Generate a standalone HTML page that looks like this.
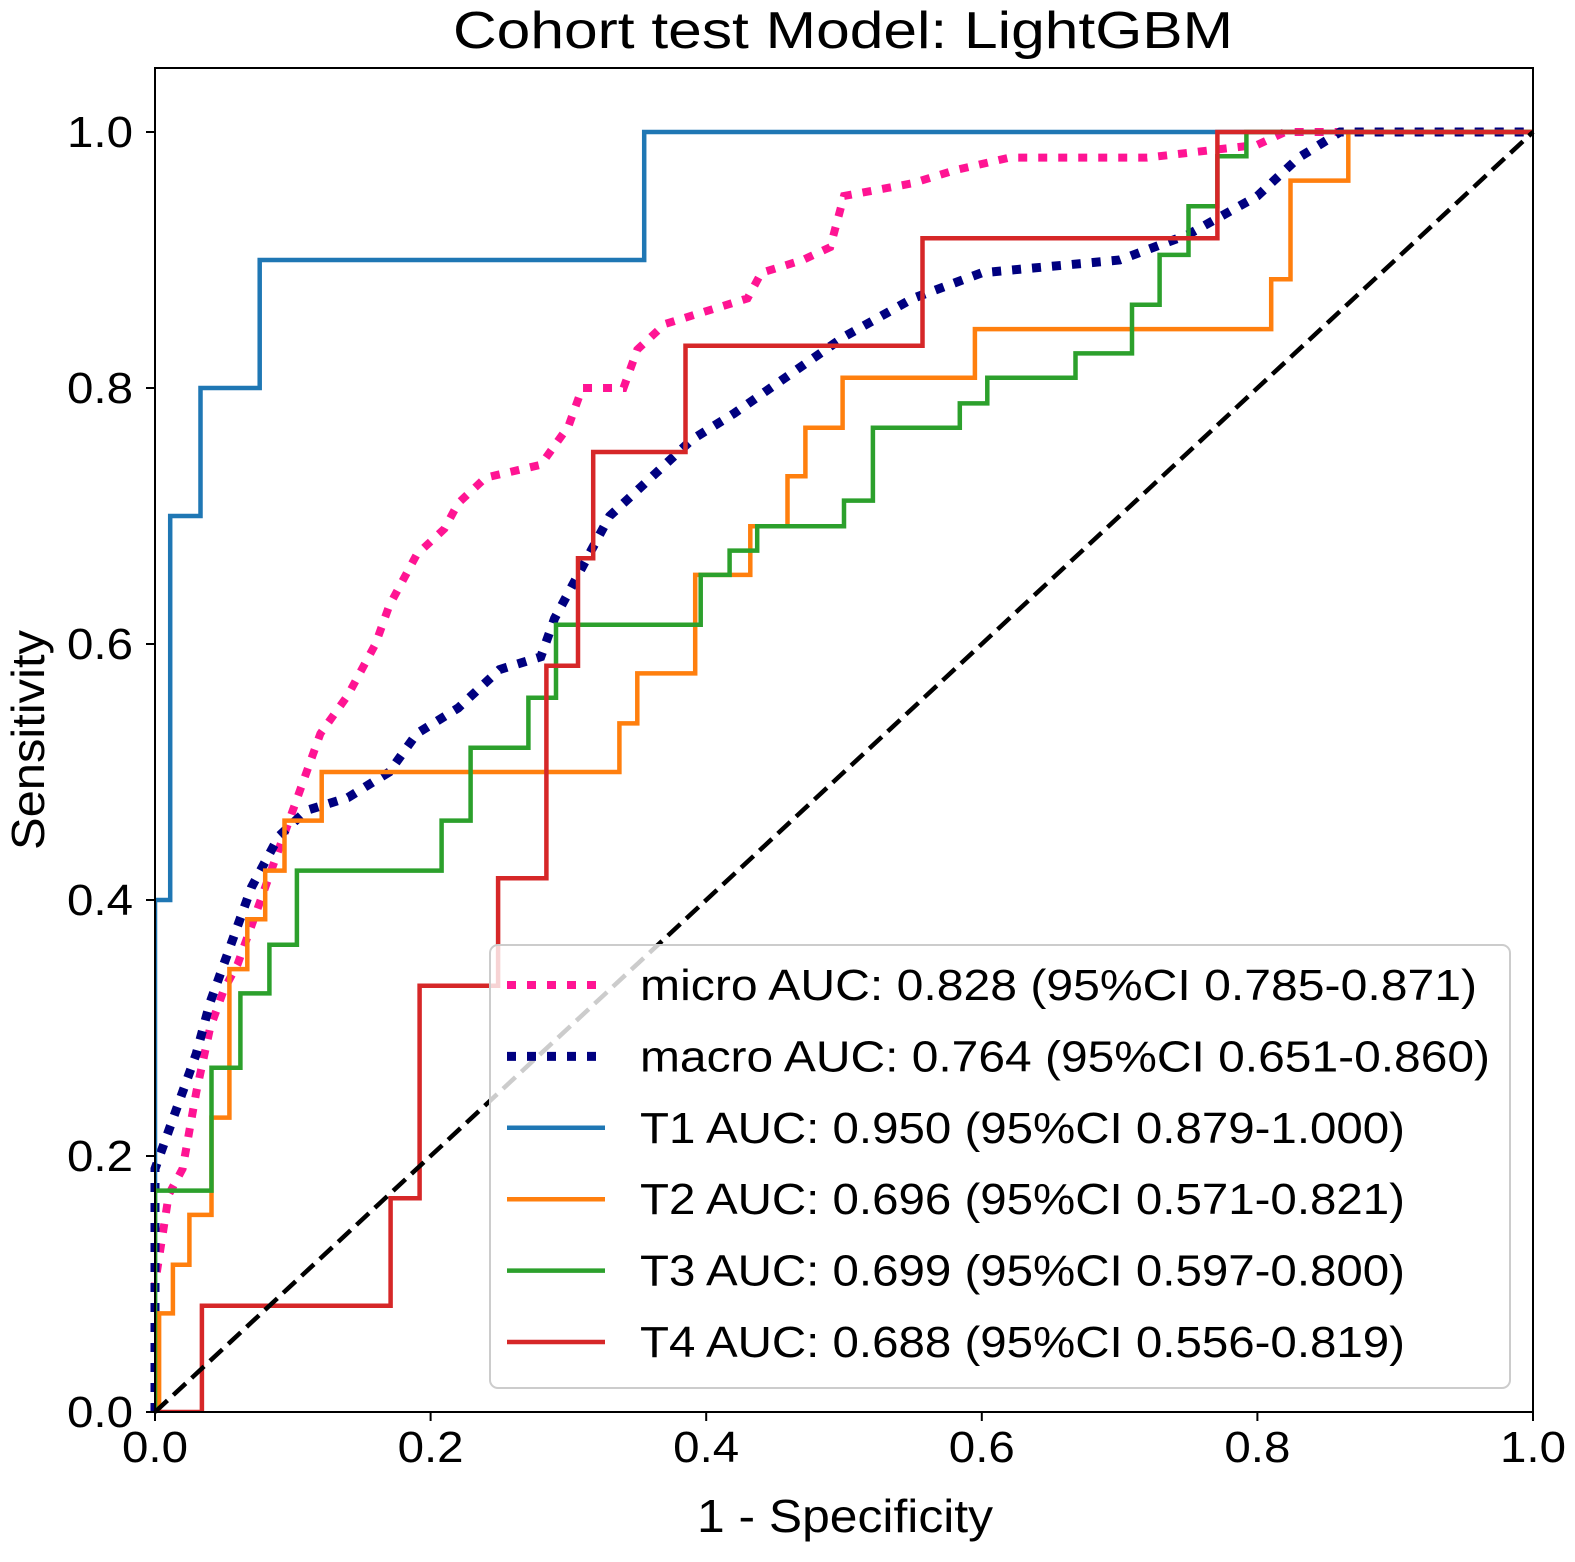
<!DOCTYPE html>
<html><head><meta charset="utf-8"><style>
html,body{margin:0;padding:0;background:#fff;}
svg{display:block;font-family:"Liberation Sans","DejaVu Sans",sans-serif;}
</style></head><body>
<svg id="chart" width="1575" height="1562" viewBox="0 0 1575 1562" xmlns="http://www.w3.org/2000/svg">
<text x="453" y="48" font-size="52" textLength="780" lengthAdjust="spacingAndGlyphs">Cohort test Model: LightGBM</text>
<text x="697" y="1532" font-size="46" textLength="296" lengthAdjust="spacingAndGlyphs">1 - Specificity</text>
<text transform="translate(44,850) rotate(-90)" font-size="46" textLength="220" lengthAdjust="spacingAndGlyphs">Sensitivity</text>
<g id="plot"></g>
</svg>
<script>
const xTicks=[0,0.2,0.4,0.6,0.8,1.0];
const yTicks=[0,0.2,0.4,0.6,0.8,1.0];
const microX=[0,0,0.01,0.02,0.03,0.04,0.05,0.06,0.07,0.09,0.1,0.11,0.12,0.14,0.16,0.17,0.19,0.21,0.22,0.24,0.28,0.3,0.31,0.34,0.35,0.37,0.4,0.43,0.44,0.47,0.49,0.5,0.55,0.58,0.62,0.72,0.8,0.82,1];
const microY=[0,0.1,0.17,0.19,0.25,0.3,0.33,0.35,0.38,0.44,0.47,0.5,0.53,0.56,0.6,0.63,0.67,0.69,0.71,0.73,0.74,0.77,0.8,0.8,0.83,0.85,0.86,0.87,0.89,0.9,0.91,0.95,0.96,0.97,0.98,0.98,0.99,1,1];
const macroX=[0,0,0.01,0.02,0.03,0.04,0.05,0.07,0.09,0.11,0.14,0.17,0.19,0.22,0.25,0.28,0.29,0.31,0.33,0.36,0.39,0.42,0.46,0.5,0.55,0.6,0.7,0.75,0.8,0.83,0.86,1];
const macroY=[0,0.19,0.22,0.25,0.28,0.32,0.35,0.41,0.45,0.47,0.48,0.5,0.53,0.55,0.58,0.59,0.62,0.66,0.7,0.73,0.76,0.78,0.81,0.84,0.87,0.89,0.9,0.92,0.95,0.98,1,1];
const t1X=[0,0.011,0.033,0.076,0.355];
const t1Y=[0.4,0.7,0.8,0.9,1.0];
const t2X=[0.003,0.013,0.025,0.041,0.054,0.067,0.08,0.094,0.121,0.337,0.35,0.392,0.432,0.459,0.472,0.499,0.595,0.81,0.824,0.866];
const t2Y=[0.077,0.115,0.154,0.23,0.346,0.385,0.423,0.462,0.5,0.538,0.577,0.654,0.692,0.731,0.769,0.808,0.846,0.885,0.962,1.0];
const t3X=[0,0.041,0.062,0.083,0.103,0.208,0.229,0.271,0.291,0.396,0.417,0.437,0.5,0.521,0.584,0.604,0.668,0.709,0.729,0.75,0.771,0.792];
const t3Y=[0.173,0.269,0.327,0.365,0.423,0.462,0.519,0.558,0.615,0.654,0.673,0.692,0.712,0.769,0.788,0.808,0.827,0.865,0.904,0.942,0.981,1.0];
const t4X=[0.034,0.171,0.192,0.249,0.284,0.307,0.318,0.385,0.557,0.771];
const t4Y=[0.083,0.167,0.333,0.417,0.583,0.667,0.75,0.833,0.917,1.0];
const legendLabels=["micro AUC: 0.828 (95%CI 0.785-0.871)","macro AUC: 0.764 (95%CI 0.651-0.860)","T1 AUC: 0.950 (95%CI 0.879-1.000)","T2 AUC: 0.696 (95%CI 0.571-0.821)","T3 AUC: 0.699 (95%CI 0.597-0.800)","T4 AUC: 0.688 (95%CI 0.556-0.819)"];
const legendWidths=[837,850,765,765,765,765];

const NS="http://www.w3.org/2000/svg";
const L=155,R=1533,B=1412,T=68;
const sx=v=>L+v*(R-L);
const sy=v=>B-v*(B-T)/1.05;
const g=document.getElementById('plot');
function mk(tag,attrs,parent){const e=document.createElementNS(NS,tag);for(const k in attrs)e.setAttribute(k,attrs[k]);(parent||g).appendChild(e);return e;}
function poly(xs,ys){return xs.map((x,i)=>sx(x).toFixed(1)+','+sy(ys[i]).toFixed(1)).join(' ');}
function stepPts(xs,ys){const px=[0],py=[0];let cur=0;for(let i=0;i<xs.length;i++){px.push(xs[i]);py.push(cur);px.push(xs[i]);py.push(ys[i]);cur=ys[i];}px.push(1);py.push(cur);return [px,py];}

const clip=mk('clipPath',{id:'pc'});mk('rect',{x:L,y:T,width:R-L,height:B-T},clip);
const series=[
 {n:'micro-curve',x:microX,y:microY,c:'#ff1493',w:8,d:'9 11'},
 {n:'macro-curve',x:macroX,y:macroY,c:'#000080',w:9,d:'9 11'},
];
let e;
for(const s of series){
 e=mk('polyline',{points:poly(s.x,s.y),fill:'none',stroke:s.c,'stroke-width':s.w,'stroke-dasharray':s.d});
 
 
}
const steps=[
 {n:'t1-curve',x:t1X,y:t1Y,c:'#1f77b4'},
 {n:'t2-curve',x:t2X,y:t2Y,c:'#ff7f0e'},
 {n:'t3-curve',x:t3X,y:t3Y,c:'#2ca02c'},
 {n:'t4-curve',x:t4X,y:t4Y,c:'#d62728'},
];
for(const s of steps){const [px,py]=stepPts(s.x,s.y);
 e=mk('polyline',{points:poly(px,py),fill:'none',stroke:s.c,'stroke-width':4.5,'clip-path':'url(#pc)'});
 
 
}
e=mk('line',{x1:sx(0),y1:sy(0),x2:sx(1),y2:sy(1),stroke:'#000','stroke-width':4.5,'stroke-dasharray':'17 8'});



e=mk('rect',{x:L,y:T,width:R-L,height:B-T,fill:'none',stroke:'#000','stroke-width':2});


for(const t of xTicks){
 mk('line',{x1:sx(t),y1:B,x2:sx(t),y2:B+9,stroke:'#000','stroke-width':2});
 e=mk('text',{x:sx(t)-33,y:B+50,'font-size':44,textLength:66,lengthAdjust:'spacingAndGlyphs'});e.textContent=t.toFixed(1);
 
 
}
for(const t of yTicks){
 mk('line',{x1:L-9,y1:sy(t),x2:L,y2:sy(t),stroke:'#000','stroke-width':2});
 e=mk('text',{x:L-88,y:sy(t)+15,'font-size':44,textLength:66,lengthAdjust:'spacingAndGlyphs'});e.textContent=t.toFixed(1);
 
 
}
const lg=mk('g',{});


mk('rect',{x:490,y:945,width:1020,height:443,rx:8,fill:'rgba(255,255,255,0.8)',stroke:'#cccccc','stroke-width':2},lg);
const lc=['#ff1493','#000080','#1f77b4','#ff7f0e','#2ca02c','#d62728'];
legendLabels.forEach((lab,i)=>{
 const y=985+i*71.4;
 const a=i<2?{x1:507,y1:y,x2:605,y2:y,stroke:lc[i],'stroke-width':i==0?8:9,'stroke-dasharray':'9 11'}:{x1:507,y1:y,x2:605,y2:y,stroke:lc[i],'stroke-width':4.5};
 const ln=mk('line',a,lg);
 
 
 const tx=mk('text',{x:640,y:y+15,'font-size':44,textLength:legendWidths[i],lengthAdjust:'spacingAndGlyphs'},lg);tx.textContent=lab;
 
 
});
</script>
</body></html>
